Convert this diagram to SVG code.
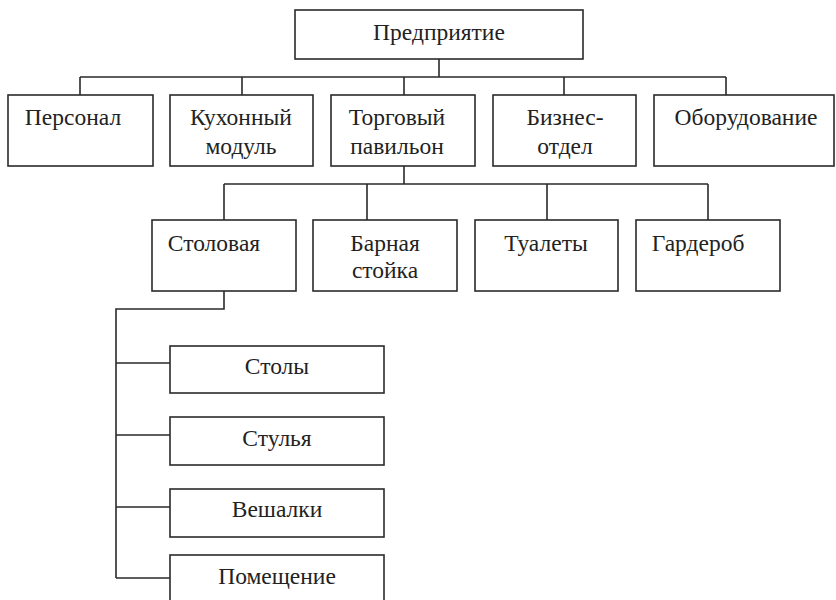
<svg xmlns="http://www.w3.org/2000/svg" width="836" height="600" viewBox="0 0 836 600">
<style>
.box{fill:#fff;stroke:#2a2a2a;stroke-width:1.6}
.ln{fill:none;stroke:#2a2a2a;stroke-width:1.6}
text{font-family:"Liberation Serif","Times New Roman",serif;font-size:23.5px;fill:#222;text-anchor:middle}
</style>
<rect width="836" height="600" fill="#fff"/>
<g id="connectors">
<path class="ln" d="M439,59V77M80,77H726M80,77V95M242,77V95M404,77V95M564,77V95M726,77V95"/>
<path class="ln" d="M404,166V184M224,184H708M224,184V220M367,184V220M547,184V220M708,184V220"/>
<path class="ln" d="M224,291V309H116V578M116,363H170M116,435H170M116,507H170M116,578H170"/>
</g>
<g id="n-predpriyatie"><rect class="box" x="295" y="10" width="288" height="49"/><text x="439" y="40">Предприятие</text></g>
<g id="n-personal"><rect class="box" x="8" y="95" width="145" height="71"/><text x="73" y="125">Персонал</text></g>
<g id="n-kuhonny"><rect class="box" x="170" y="95" width="143" height="71"/><text x="241" y="125">Кухонный</text><text x="241" y="154">модуль</text></g>
<g id="n-torgovy"><rect class="box" x="331" y="95" width="144" height="71"/><text x="397" y="125">Торговый</text><text x="397" y="154">павильон</text></g>
<g id="n-biznes"><rect class="box" x="493" y="95" width="143" height="71"/><text x="565" y="125">Бизнес-</text><text x="565" y="154">отдел</text></g>
<g id="n-oborud"><rect class="box" x="654" y="95" width="180" height="71"/><text x="746" y="125">Оборудование</text></g>
<g id="n-stolovaya"><rect class="box" x="152" y="220" width="144" height="71"/><text x="214" y="251">Столовая</text></g>
<g id="n-barnaya"><rect class="box" x="313" y="220" width="144" height="71"/><text x="385" y="251">Барная</text><text x="385" y="278">стойка</text></g>
<g id="n-tualety"><rect class="box" x="475" y="220" width="143" height="71"/><text x="546" y="251">Туалеты</text></g>
<g id="n-garderob"><rect class="box" x="636" y="220" width="144" height="71"/><text x="698" y="251">Гардероб</text></g>
<g id="n-stoly"><rect class="box" x="170" y="346" width="214" height="47"/><text x="277" y="374">Столы</text></g>
<g id="n-stulya"><rect class="box" x="170" y="417" width="214" height="48"/><text x="277" y="446">Стулья</text></g>
<g id="n-veshalki"><rect class="box" x="170" y="489" width="214" height="48"/><text x="277" y="517">Вешалки</text></g>
<g id="n-pomeshenie"><rect class="box" x="170" y="555" width="214" height="48"/><text x="277" y="584">Помещение</text></g>
</svg>
